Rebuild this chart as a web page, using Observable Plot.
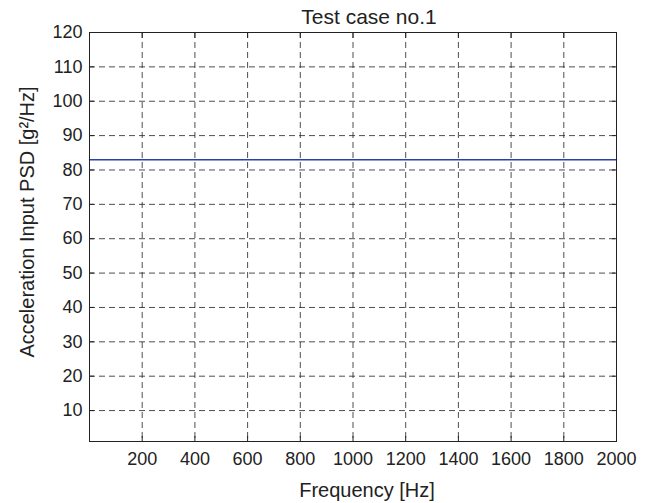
<!DOCTYPE html>
<html><head><meta charset="utf-8">
<script src="https://cdn.jsdelivr.net/npm/d3@7"></script>
<script src="https://cdn.jsdelivr.net/npm/@observablehq/plot@0.6"></script>
<style>body{margin:0;background:#fff} svg{display:block}</style>
</head><body><div id="chart"></div>
<script>
const titleText = "Test case no.1";
const xLabel = "Frequency [Hz]";
const yLabel = "Acceleration Input PSD [g\u00B2/Hz]";
const xTicks = [200, 400, 600, 800, 1000, 1200, 1400, 1600, 1800, 2000];
const yTicks = [10, 20, 30, 40, 50, 60, 70, 80, 90, 100, 110, 120];
const frequency = [0, 2000];
const psd = [83, 83];

const data = frequency.map((f, i) => ({f, v: psd[i]}));
const ink = "#222";
const gridStyle = {stroke: ink, strokeOpacity: 1, strokeWidth: 0.8, strokeDasharray: "6,4"};
const fmt = d => String(d);

const chart = Plot.plot({
  width: 658, height: 503,
  marginLeft: 89, marginRight: 42, marginTop: 32, marginBottom: 62,
  style: {fontFamily: "'Liberation Sans', Arial, Helvetica, sans-serif", color: ink, background: "#fff"},
  x: {domain: [0, 2000]},
  y: {domain: [1, 120]},
  marks: [
    Plot.gridX(xTicks, gridStyle),
    Plot.gridY(yTicks, gridStyle),
    Plot.axisX(xTicks, {anchor: "bottom", tickSize: -5, fill: "none", label: null}),
    Plot.axisX(xTicks, {anchor: "top", tickSize: -5, fill: "none", label: null}),
    Plot.axisY(yTicks, {anchor: "left", tickSize: -5, fill: "none", label: null}),
    Plot.axisY(yTicks, {anchor: "right", tickSize: -5, fill: "none", label: null}),
    Plot.axisX(xTicks, {anchor: "bottom", tickSize: 0, tickPadding: 11, fontSize: 18, label: null, tickFormat: fmt}),
    Plot.axisY(yTicks, {anchor: "left", tickSize: 0, tickPadding: 7, fontSize: 18, label: null, tickFormat: fmt}),
    Plot.line(data, {x: "f", y: "v", stroke: "#2b3fae", strokeWidth: 1.5}),
    Plot.frame({stroke: ink, strokeWidth: 1}),
    Plot.text([titleText], {frameAnchor: "top", textAnchor: "middle", dx: 16, dy: -9, lineAnchor: "bottom", fontSize: 21, fill: ink}),
    Plot.text([xLabel], {frameAnchor: "bottom", textAnchor: "middle", dx: 14, dy: 55, lineAnchor: "bottom", fontSize: 20, fill: ink}),
    Plot.text([yLabel], {frameAnchor: "left", textAnchor: "middle", dx: -56, dy: -15, rotate: -90, lineAnchor: "bottom", fontSize: 20, fill: ink})
  ]
});
document.getElementById("chart").appendChild(chart);
</script>
</body></html>
